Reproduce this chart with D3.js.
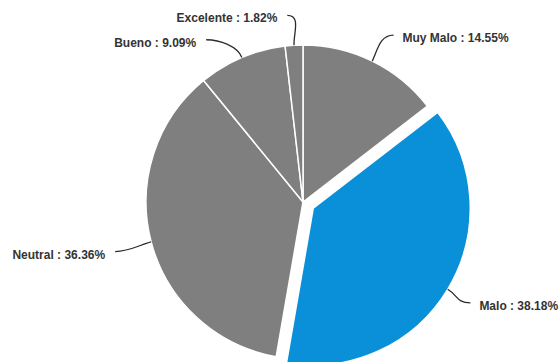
<!DOCTYPE html>
<html>
<head>
<meta charset="utf-8">
<script src="https://cdn.jsdelivr.net/npm/d3@7"></script>
<style>
  body { margin: 0; background: #fff; }
  svg { display: block; }
</style>
</head>
<body>
<svg id="chart"></svg>
<script>
// Pie: opinion ratings, "Malo" pulled out and highlighted

const categories = ["Muy Malo", "Malo", "Neutral", "Bueno", "Excelente"];
const percentages = [14.55, 38.18, 36.36, 9.09, 1.82];
const highlighted = "Malo";

const width = 559, height = 362;
const radius = 157;
const cx = 303, cy = 202;
const explode = 12;
const labelDistance = 30;

// small nudges where labels were pushed apart to avoid overlap
const labelNudge = { "Bueno": [-24, 10], "Excelente": [-5, 0], "Muy Malo": [8, 1], "Neutral": [-7, 2], "Malo": [-3, -2] };

const svg = d3.select("#chart")
    .attr("width", width)
    .attr("height", height);

const g = svg.append("g")
    .attr("transform", `translate(${cx}, ${cy})`);

const data = categories.map((c, i) => ({ name: c, value: percentages[i] }));

const pie = d3.pie()
    .value(d => d.value)
    .sort(null);

const arc = d3.arc()
    .innerRadius(0)
    .outerRadius(radius);

const arcs = pie(data);

const offset = d => {
    if (d.data.name !== highlighted) return [0, 0];
    const a = (d.startAngle + d.endAngle) / 2;
    return [Math.sin(a) * explode, -Math.cos(a) * explode];
};

g.selectAll("path.slice")
    .data(arcs)
    .enter().append("path")
    .attr("class", "slice")
    .attr("d", arc)
    .attr("transform", d => `translate(${offset(d)})`)
    .attr("fill", d => d.data.name === highlighted ? "#0a90d8" : "#7f7f7f")
    .attr("stroke", "#fff")
    .attr("stroke-width", 1.5)
    .attr("stroke-linejoin", "round");

// labels + curved connectors
arcs.forEach(d => {
    const a = (d.startAngle + d.endAngle) / 2;
    const sx = Math.sin(a), sy = -Math.cos(a);
    const [ox, oy] = offset(d);
    const edge = [ox + sx * radius, oy + sy * radius];
    const nudge = labelNudge[d.data.name] || [0, 0];
    const end = [ox + sx * (radius + labelDistance) + nudge[0],
                 oy + sy * (radius + labelDistance) + nudge[1]];
    const right = sx >= 0;
    const dir = right ? -1 : 1;

    const c1 = [edge[0] + sx * 12, edge[1] + sy * 12];
    const c2 = [end[0] + dir * 14, end[1]];

    g.append("path")
        .attr("d", `M${edge}C${c1} ${c2} ${end}`)
        .attr("fill", "none")
        .attr("stroke", "#2b2b2b")
        .attr("stroke-width", 1.3);

    g.append("text")
        .attr("x", end[0] + (right ? 9 : -10))
        .attr("y", end[1] + 3)
        .attr("text-anchor", right ? "start" : "end")
        .attr("dominant-baseline", "central")
        .style("font-family", "Liberation Sans, Arial, sans-serif")
        .style("font-size", "12px")
        .style("font-weight", "bold")
        .style("fill", "#333")
        .text(`${d.data.name} : ${d.data.value.toFixed(2)}%`);
});
</script>
</body>
</html>
